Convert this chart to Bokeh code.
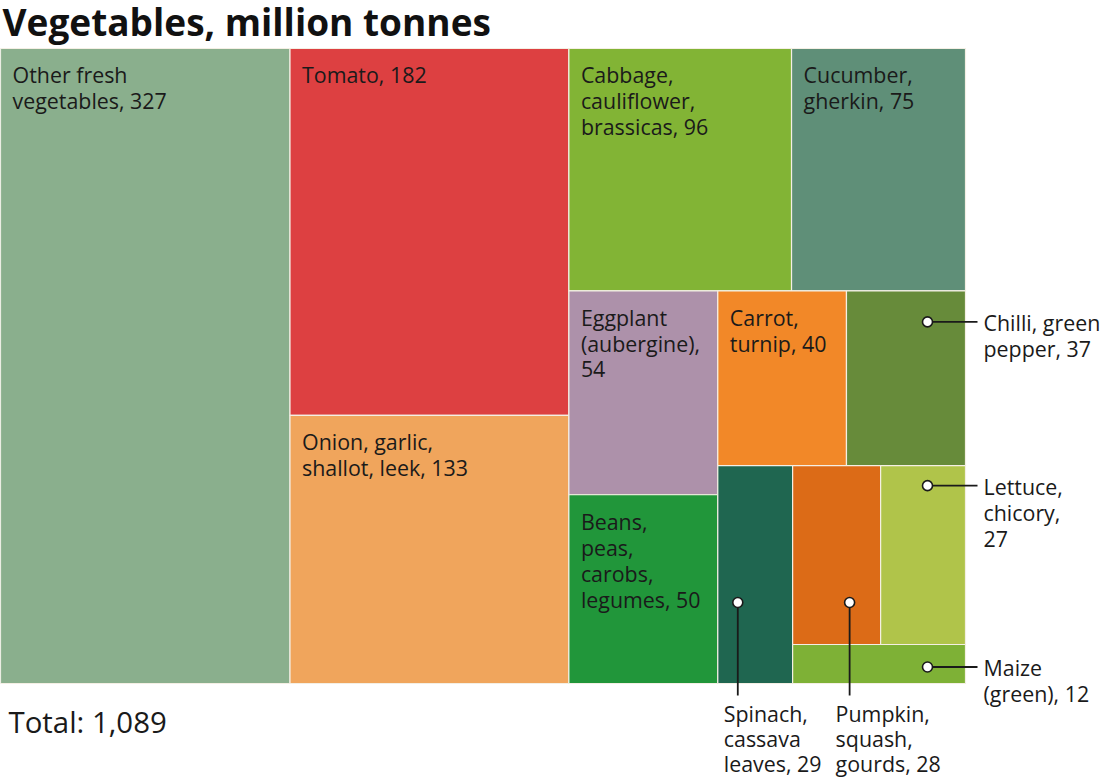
from bokeh.plotting import figure
from bokeh.models import Range1d, ColumnDataSource
from bokeh.core.properties import value
from bokeh.embed import file_html
from bokeh.resources import INLINE

# ---------------- data ----------------
title = "Vegetables, million tonnes"
labels = [
    "Other fresh\nvegetables, {}",
    "Tomato, {}",
    "Onion, garlic,\nshallot, leek, {}",
    "Cabbage,\ncauliflower,\nbrassicas, {}",
    "Cucumber,\ngherkin, {}",
    "Eggplant\n(aubergine),\n{}",
    "Beans,\npeas,\ncarobs,\nlegumes, {}",
    "Carrot,\nturnip, {}",
    "Chilli, green\npepper, {}",
    "Spinach,\ncassava\nleaves, {}",
    "Pumpkin,\nsquash,\ngourds, {}",
    "Lettuce,\nchicory,\n{}",
    "Maize\n(green), {}",
]
values = [327, 182, 133, 96, 75, 54, 50, 40, 37, 29, 28, 27, 12]
colors = ["#8aaf8d", "#dd4041", "#f0a55c", "#82b435", "#5f8f78", "#ad91aa",
          "#21963a", "#f28828", "#678b3a", "#1f6650", "#dc6b17", "#b0c44a", "#7eb136"]
total = 1089

# treemap nesting ("h" = side by side, "v" = stacked), leaves are indices
tree = ("h", [0, ("v", [1, 2]),
              ("v", [("h", [3, 4]),
                     ("h", [("v", [5, 6]),
                            ("v", [("h", [7, 8]),
                                   ("h", [9, ("v", [("h", [10, 11]), 12])])])])])])

# ---------------- geometry / style ----------------
W, H = 1100, 778
TX0, TY0, TX1, TY1 = 0.0, 48.0, 965.0, 683.0   # treemap box (pixels)
FSV = 21.4
FS = f"{FSV}px"
SH = 0.33            # rendering correction for the alphabetic baseline (em)
LH = 26.0
INK = "#1a1a1a"
FONT = value("Open Sans")


def weight(n):
    return values[n] if isinstance(n, int) else sum(weight(k) for k in n[1])


rects = {}


def layout(n, x0, y0, x1, y1):
    if isinstance(n, int):
        rects[n] = (x0, y0, x1, y1)
        return
    d, kids = n
    tot = sum(weight(k) for k in kids)
    pos = x0 if d == "h" else y0
    for k in kids:
        span = ((x1 - x0) if d == "h" else (y1 - y0)) * weight(k) / tot
        if d == "h":
            layout(k, pos, y0, pos + span, y1)
        else:
            layout(k, x0, pos, x1, pos + span)
        pos += span


layout(tree, TX0, TY0, TX1, TY1)

p = figure(width=W, height=H, x_range=Range1d(0, W), y_range=Range1d(H, 0),
           output_backend="svg", toolbar_location=None, x_axis_type=None, y_axis_type=None,
           min_border=0, outline_line_color=None)
p.grid.visible = False
p.background_fill_color = "white"
p.border_fill_color = "white"

idx = list(range(len(values)))
cells = ColumnDataSource(dict(
    left=[rects[i][0] for i in idx], top=[rects[i][1] for i in idx],
    right=[rects[i][2] for i in idx], bottom=[rects[i][3] for i in idx],
    color=colors))
p.quad(left="left", right="right", top="top", bottom="bottom", fill_color="color",
       line_color="#f4efe4", line_width=1.2, source=cells)

# inside labels
inside = [0, 1, 2, 3, 4, 5, 6, 7]
tx, ty, tt = [], [], []
for i in inside:
    x0, y0, x1, y1 = rects[i]
    for j, line in enumerate(labels[i].format(values[i]).split("\n")):
        tx.append(x0 + 12)
        ty.append(y0 + 33.5 + LH * j - SH * FSV)
        tt.append(line)
p.text(x=tx, y=ty, text=tt, text_font=FONT, text_font_size=FS, text_color=INK,
       text_baseline="alphabetic", text_align="left")

# callouts
callouts = {8: ("right", 31), 11: ("right", 20), 12: ("right", None),
            9: ("down", 20), 10: ("down", 57)}
dx, dy, sx0, sy0, sx1, sy1 = [], [], [], [], [], []
cx, cy, ct = [], [], []
for i, (kind, off) in callouts.items():
    x0, y0, x1, y1 = rects[i]
    if kind == "right":
        px = TX1 - 38
        py = y0 + off if off is not None else (y0 + y1) / 2 + 3
        sx0.append(px); sy0.append(py); sx1.append(TX1 + 12); sy1.append(py)
        for j, line in enumerate(labels[i].format(values[i]).split("\n")):
            cx.append(TX1 + 18); cy.append(py + 8 + LH * j - SH * FSV); ct.append(line)
    else:
        px = x0 + off
        py = TY1 - 81
        sx0.append(px); sy0.append(py); sx1.append(px); sy1.append(TY1 + 12)
        for j, line in enumerate(labels[i].format(values[i]).split("\n")):
            cx.append(px - 14); cy.append(TY1 + 37 + 25.0 * j - SH * FSV); ct.append(line)
    dx.append(px); dy.append(py)

p.segment(x0=sx0, y0=sy0, x1=sx1, y1=sy1, line_color=INK, line_width=1.8)
p.scatter(x=dx, y=dy, size=10, fill_color="white", line_color=INK, line_width=1.6)
p.text(x=cx, y=cy, text=ct, text_font=FONT, text_font_size=FS, text_color=INK,
       text_baseline="alphabetic", text_align="left")

# title and total
p.text(x=[2], y=[33 - SH * 37], text=[title], text_font=FONT, text_font_style="bold",
       text_font_size="37px", text_color="#111111", text_baseline="alphabetic")
p.text(x=[8], y=[731.5 - SH * 29.4], text=[f"Total: {total:,}"], text_font=FONT,
       text_font_size="29.4px", text_color=INK, text_baseline="alphabetic")

open("out.html", "w").write(file_html(p, INLINE))
